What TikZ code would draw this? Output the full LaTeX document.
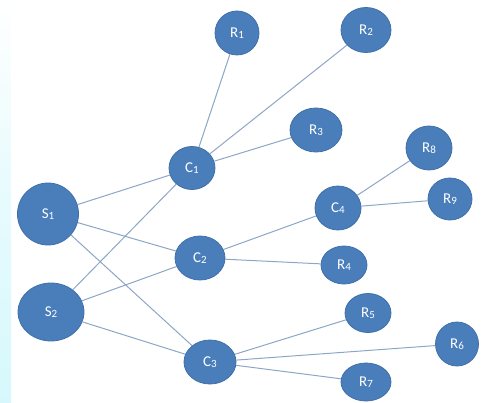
\documentclass[tikz,border=0pt]{standalone}
\usepackage{fontspec}
\setmainfont{Carlito}
\usetikzlibrary{shapes.geometric,backgrounds}
\definecolor{nodefill}{HTML}{4A7EBB}
\definecolor{nodeedge}{HTML}{3F6FA8}
\definecolor{edgecol}{HTML}{8EA6C6}
\definecolor{stripcol}{HTML}{D6F8FC}
\tikzset{
  vert/.style={ellipse, fill=nodefill, draw=nodeedge, line width=0.8pt, inner sep=0pt,
    text=white, font=\fontsize{15}{15}\selectfont},
  link/.style={draw=edgecol, line width=1pt},
}
\newcommand{\lab}[2]{#1\raisebox{-1pt}{\fontsize{11}{11}\selectfont #2}}
\begin{document}
\begin{tikzpicture}[x=1pt,y=-1pt]
\useasboundingbox (0,0) rectangle (489,403);
% nodes
\node[vert, minimum width=44pt, minimum height=44pt] (R1) at (237,33) {\lab{R}{1}};
\node[vert, minimum width=50pt, minimum height=45pt] (R2) at (366,30) {\lab{R}{2}};
\node[vert, minimum width=52pt, minimum height=44pt] (R3) at (316,130) {\lab{R}{3}};
\node[vert, minimum width=46pt, minimum height=44pt] (R8) at (429,148) {\lab{R}{8}};
\node[vert, minimum width=46pt, minimum height=43pt] (C1) at (192,168) {\lab{C}{1}};
\node[vert, minimum width=46pt, minimum height=44pt] (C4) at (338,208) {\lab{C}{4}};
\node[vert, minimum width=44pt, minimum height=42pt] (R9) at (450,199) {\lab{R}{9}};
\node[vert, minimum width=61pt, minimum height=62pt] (S1) at (48,214) {\lab{S}{1}};
\node[vert, minimum width=50pt, minimum height=44pt] (C2) at (200,258) {\lab{C}{2}};
\node[vert, minimum width=46pt, minimum height=38pt] (R4) at (344,265) {\lab{R}{4}};
\node[vert, minimum width=66pt, minimum height=58pt] (S2) at (51,312) {\lab{S}{2}};
\node[vert, minimum width=46pt, minimum height=39pt] (R5) at (368,313) {\lab{R}{5}};
\node[vert, minimum width=43pt, minimum height=44pt] (R6) at (457,344) {\lab{R}{6}};
\node[vert, minimum width=52pt, minimum height=44pt] (C3) at (210,362) {\lab{C}{3}};
\node[vert, minimum width=50pt, minimum height=38pt] (R7) at (366,382) {\lab{R}{7}};
% background strip and edges
\begin{scope}[on background layer]
\shade[top color=white, bottom color=stripcol, middle color=stripcol!60] (0,0) rectangle (11,403);
\draw[link] (C1) -- (R1);
\draw[link] (C1) -- (R2);
\draw[link] (C1) -- (R3);
\draw[link] (C1) -- (S1);
\draw[link] (C1) -- (S2);
\draw[link] (S1) -- (C2);
\draw[link] (S1) -- (C3);
\draw[link] (S2) -- (C2);
\draw[link] (S2) -- (C3);
\draw[link] (C2) -- (C4);
\draw[link] (C2) -- (R4);
\draw[link] (C4) -- (R8);
\draw[link] (C4) -- (R9);
\draw[link] (C3) -- (R5);
\draw[link] (C3) -- (R6);
\draw[link] (C3) -- (R7);
\end{scope}
\end{tikzpicture}
\end{document}
